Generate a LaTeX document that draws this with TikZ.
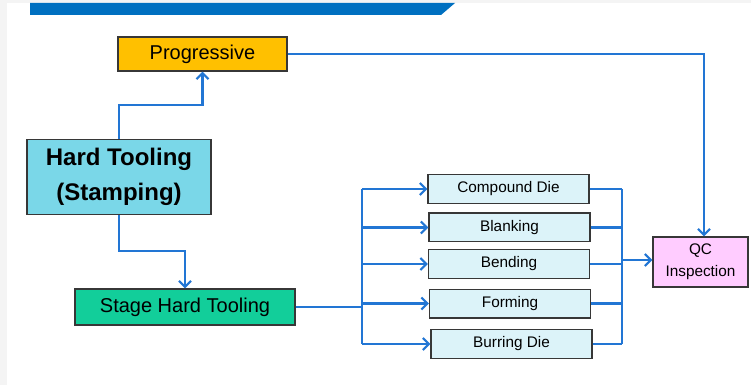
\documentclass[tikz,border=0pt]{standalone}
\usepackage{fontspec}
\setmainfont{Liberation Sans}
\usetikzlibrary{arrows.meta,calc}
\definecolor{banner}{RGB}{0,112,192}
\definecolor{conn}{RGB}{34,118,212}
\definecolor{progfill}{RGB}{255,192,0}
\definecolor{hardfill}{RGB}{122,215,232}
\definecolor{stagefill}{RGB}{18,206,154}
\definecolor{diefill}{RGB}{220,243,249}
\definecolor{qcfill}{RGB}{255,204,255}
\definecolor{boxline}{RGB}{55,55,55}
\definecolor{bggray}{RGB}{244,244,244}
\tikzset{
  box/.style={draw=boxline, line width=1pt, inner sep=0pt, align=center, text=black},
  diebox/.style={box, fill=diefill, minimum width=120.75pt, minimum height=21.5pt, font=\fontsize{11.5}{13}\selectfont},
  link/.style={draw=conn, line width=2pt},
  arr/.style={link, -{Straight Barb[length=4.5pt,width=9pt,line width=1.6pt]}}
}
\begin{document}
\begin{tikzpicture}[x=0.75pt,y=-0.75pt]
\useasboundingbox (0,0) rectangle (751,385);
\fill[bggray] (0,0) rectangle (751,385);
\fill[white] (7,3) rectangle (751,385);
\fill[banner] (30,3) -- (455,3) -- (441,15) -- (30,15) -- cycle;

\node[box, fill=progfill, minimum width=126.75pt, minimum height=25.5pt, font=\fontsize{15}{18}\selectfont] (prog) at (202.5,54) {Progressive};
\node[box, fill=hardfill, minimum width=138pt, minimum height=56.25pt, font=\fontsize{18}{26}\selectfont\bfseries] (hard) at (119,177) {Hard Tooling\\(Stamping)};
\node[box, fill=stagefill, minimum width=165pt, minimum height=27pt, font=\fontsize{15}{18}\selectfont] (stage) at (185,307) {Stage Hard Tooling};

\node[diebox] (cd) at (508.5,189) {Compound Die};
\node[diebox] (bl) at (509.5,227.5) {Blanking};
\node[diebox] (be) at (509,264) {Bending};
\node[diebox] (fo) at (510,303.5) {Forming};
\node[diebox] (bu) at (511.5,344) {Burring Die};

\node[box, fill=qcfill, minimum width=71.25pt, minimum height=37.5pt, font=\fontsize{11.5}{16.5}\selectfont] (qc) at (700.5,262) {QC\\Inspection};

\coordinate (e1) at (202.5,105);
\coordinate (e2) at (185,251);
\coordinate (lb) at (362,306);
\coordinate (rb) at (622,260);
\coordinate (e3) at (704,53);

\draw[arr] (hard.north) |- (e1) -- (prog.south);
\draw[arr] (hard.south) |- (e2) -- (stage.north);
\draw[link] (stage.east) -- (stage.east -| lb);
\draw[link] (cd.west -| lb) -- (bu.west -| lb);
\foreach \n in {cd,bl,be,fo,bu} {
  \draw[arr] (\n.west -| lb) -- (\n.west);
  \draw[link] (\n.east) -- (\n.east -| rb);
}
\draw[link] (cd.east -| rb) -- (bu.east -| rb);
\draw[arr] (rb) -- (rb -| qc.west);
\draw[arr] (prog.east) -- (prog.east -| e3) -- (e3 |- qc.north);
\end{tikzpicture}
\end{document}
